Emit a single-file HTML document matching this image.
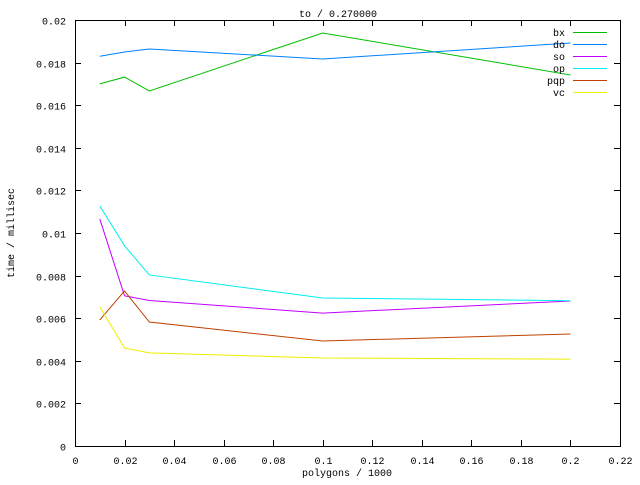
<!DOCTYPE html>
<html><head><meta charset="utf-8"><style>
body{margin:0;background:#fff}
svg text{font-family:"Liberation Mono",monospace;font-size:10px;fill:#000}
</style></head><body>
<svg id="c" width="640" height="480" xmlns="http://www.w3.org/2000/svg"></svg>
<script>
const xs = [0.01, 0.02, 0.03, 0.1, 0.2];
const seriesNames = ["bx","do","so","op","pqp","vc"];
const bx  = [0.0170, 0.01732, 0.01667, 0.01939, 0.01742];
const dO  = [0.0183, 0.0185, 0.01864, 0.01817, 0.01892];
const so  = [0.01066, 0.00705, 0.00683, 0.00624, 0.00681];
const op  = [0.01127, 0.0094, 0.00803, 0.00695, 0.00682];
const pqp = [0.00592, 0.00728, 0.00582, 0.00493, 0.00526];
const vc  = [0.00653, 0.0046, 0.00437, 0.00413, 0.00408];
const xTicks = [0,0.02,0.04,0.06,0.08,0.1,0.12,0.14,0.16,0.18,0.2,0.22];
const xTickLabels = ["0","0.02","0.04","0.06","0.08","0.1","0.12","0.14","0.16","0.18","0.2","0.22"];
const yTicks = [0,0.002,0.004,0.006,0.008,0.01,0.012,0.014,0.016,0.018,0.02];
const yTickLabels = ["0","0.002","0.004","0.006","0.008","0.01","0.012","0.014","0.016","0.018","0.02"];

const colors = ["#00c000","#0080ff","#c000ff","#00eeee","#c04000","#eeee00"];
const data = [bx,dO,so,op,pqp,vc];
const L=75,R=620,T=20,B=446;
const X=v=>L+(v-0)/(0.22)*(R-L);
const Y=v=>B-(v/0.02)*(B-T);
const svg=document.getElementById('c');
const NS="http://www.w3.org/2000/svg";
function mk(t,a,p){const e=document.createElementNS(NS,t);for(const k in a)e.setAttribute(k,a[k]);(p||svg).appendChild(e);return e;}
const frame=mk('rect',{x:L+0.5,y:T+0.5,width:R-L,height:B-T,fill:'none',stroke:'#000','stroke-width':1,'shape-rendering':'crispEdges'});


xTicks.forEach((v,i)=>{
  const x=Math.round(X(v))+0.5;
  const t=mk('path',{d:`M${x} ${B}v-6M${x} ${T}v6`,stroke:'#000','shape-rendering':'crispEdges'});
  
  
  const l=mk('text',{x:x,y:B+18,'text-anchor':'middle'});l.textContent=xTickLabels[i];
  
  
});
yTicks.forEach((v,i)=>{
  const y=Math.round(Y(v))+0.5;
  const t=mk('path',{d:`M${L} ${y}h6M${R} ${y}h-6`,stroke:'#000','shape-rendering':'crispEdges'});
  
  
  const l=mk('text',{x:L-9,y:y+4,'text-anchor':'end'});l.textContent=yTickLabels[i];
  
  
});
data.forEach((s,k)=>{
  const p=mk('polyline',{points:s.map((v,i)=>X(xs[i])+','+Y(v)).join(' '),fill:'none',stroke:colors[k],'stroke-width':1});
  
  
  const ly=32+k*12;
  const lt=mk('text',{x:565,y:ly+4,'text-anchor':'end'});lt.textContent=seriesNames[k];
  
  
  const ll=mk('line',{x1:573,x2:607,y1:ly+0.5,y2:ly+0.5,stroke:colors[k],'stroke-width':1});
  
  
});
const ti=mk('text',{x:338,y:17,'text-anchor':'middle'});ti.textContent="to / 0.270000";


const xl=mk('text',{x:347,y:476,'text-anchor':'middle'});xl.textContent="polygons / 1000";


const yl=mk('text',{x:0,y:0,'text-anchor':'middle',transform:'translate(14,233) rotate(-90)'});yl.textContent="time / millisec";


</script>
</body></html>
